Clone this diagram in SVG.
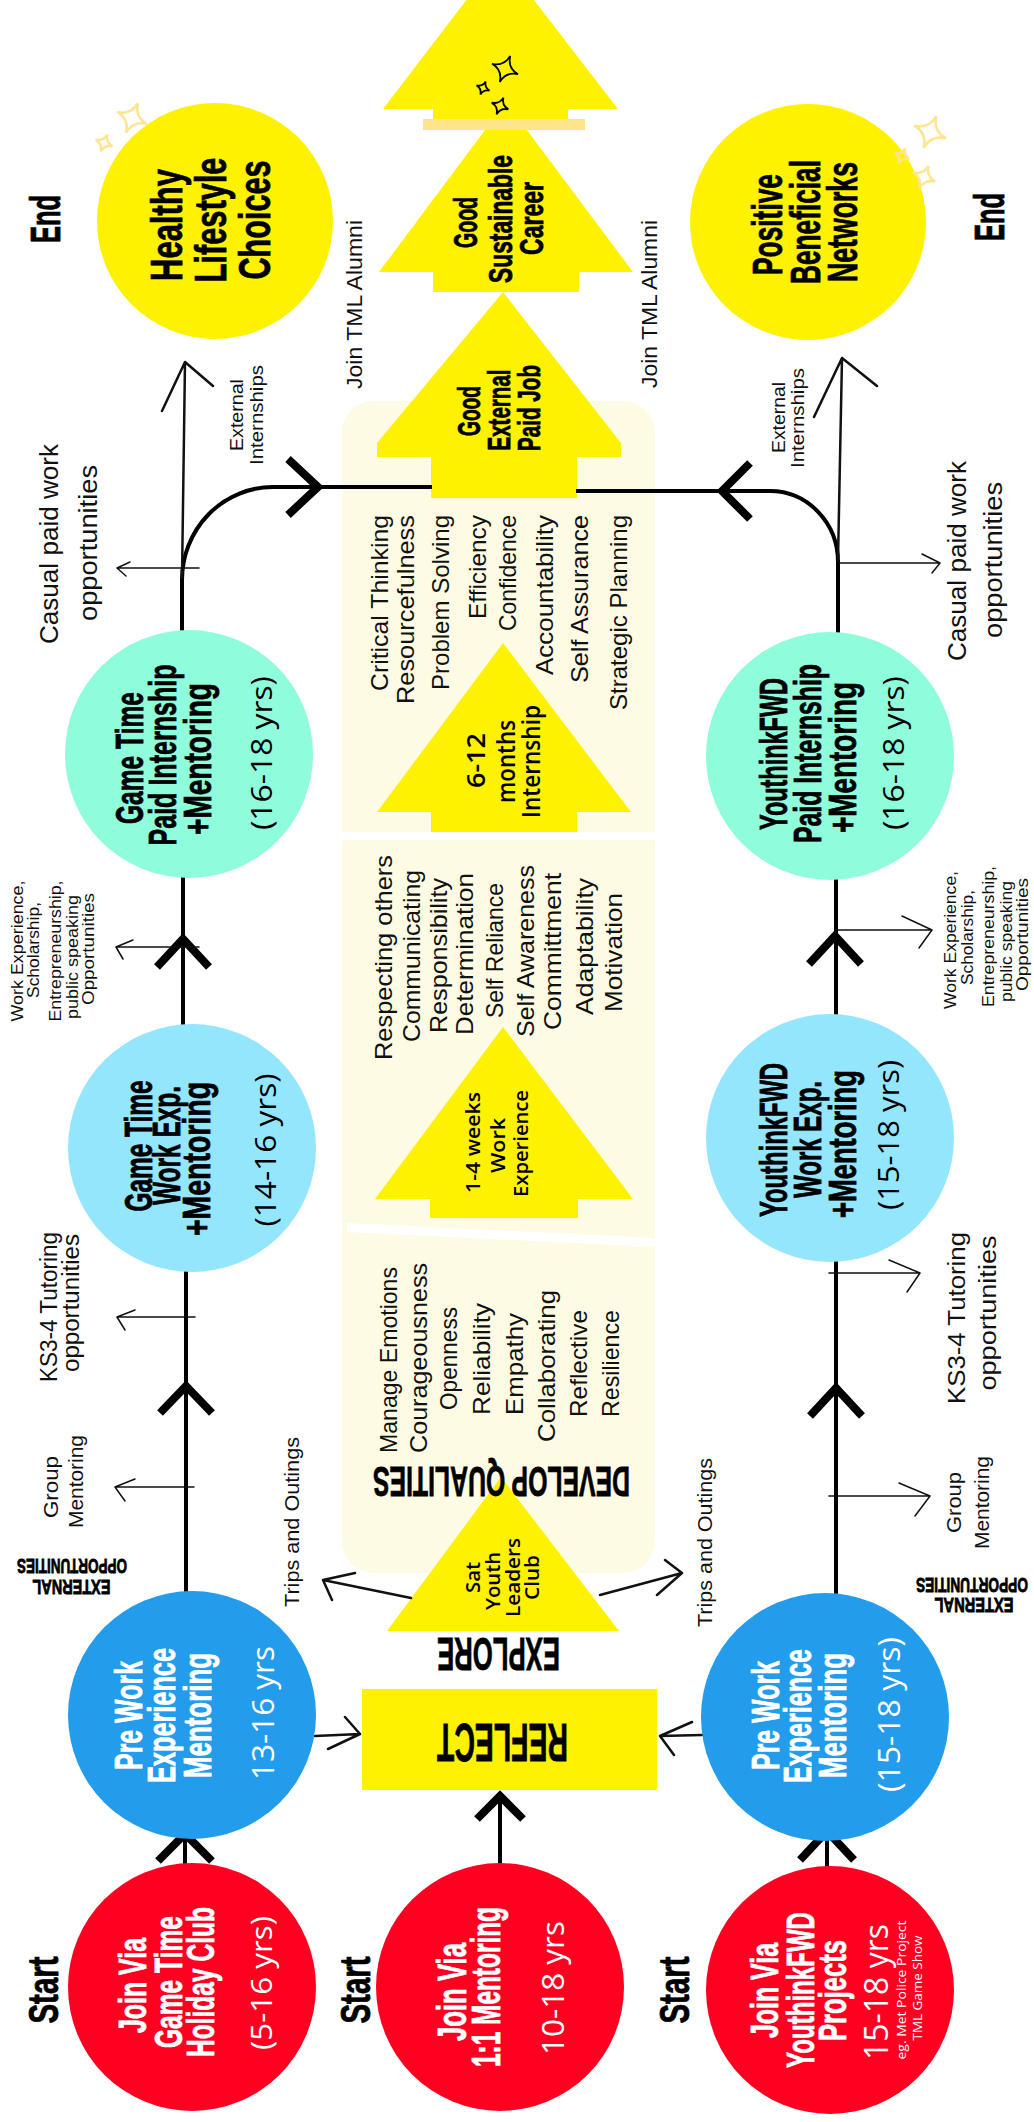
<svg xmlns="http://www.w3.org/2000/svg" width="1034" height="2122" viewBox="0 0 1034 2122">
<style>
.hd{font-family:"Liberation Sans",Arial,sans-serif;font-weight:700;text-anchor:middle;fill:#000;stroke:#000;stroke-width:0.8}
.wh{fill:#fff}
.hd.wh{stroke:#fff}
.hw{font-family:"Liberation Sans",Arial,sans-serif;font-weight:400;text-anchor:middle;fill:#111}
.os{font-family:"Open Sans","Liberation Sans",sans-serif;text-anchor:middle}
.e{text-anchor:end}
.yl{fill:#FFF200}
.ln{stroke:#000;fill:none;stroke-width:4}
.thin{stroke:#111;fill:none;stroke-width:1.5;stroke-linecap:round;stroke-linejoin:round}
.mid{stroke:#111;fill:none;stroke-width:2.5;stroke-linecap:round;stroke-linejoin:round}
.chev{stroke:#000;fill:none;stroke-width:8}
.sk{fill:none;stroke:#000;stroke-width:1.8}
.sy{fill:none;stroke:#FFE58F;stroke-width:2.5}
</style>
<defs>
<path id="star" vector-effect="non-scaling-stroke" d="M0 -1 Q0.13 -0.13 1 0 Q0.13 0.13 0 1 Q-0.13 0.13 -1 0 Q-0.13 -0.13 0 -1Z"/>
</defs>
<rect width="1034" height="2122" fill="#fff"/>

<g id="panel">
<rect x="342" y="401" width="313" height="1172" rx="32" fill="#FDFBE3"/>
<rect x="342" y="832" width="313" height="8" fill="#fff"/>
<polygon points="347,1223 655,1238 655,1247 347,1232" fill="#fff"/>
</g>

<g id="arrow-career">
<polygon class="yl" points="506,102 633,272 579,272 579,292 433,292 433,272 379,272"/>
<text class="hd" font-size="33" transform="translate(477 222.5) rotate(-90)" textLength="51" lengthAdjust="spacingAndGlyphs">Good</text>
<text class="hd" font-size="33" transform="translate(512 219) rotate(-90)" textLength="128" lengthAdjust="spacingAndGlyphs">Sustainable</text>
<text class="hd" font-size="33" transform="translate(543 218.5) rotate(-90)" textLength="73" lengthAdjust="spacingAndGlyphs">Career</text>
</g>

<g id="arrow-top">
<polygon class="yl" points="500,-44 618,109 568,109 568,119 433,119 433,109 383,109"/>
<rect x="423" y="119" width="162" height="11" fill="#FFE58A"/>
<use href="#star" class="sk" transform="translate(505 69) rotate(22) scale(14)"/>
<use href="#star" class="sk" transform="translate(483 88) rotate(22) scale(7)"/>
<use href="#star" class="sk" transform="translate(500 106) rotate(22) scale(9)"/>
</g>

<g id="arrow-job">
<polygon class="yl" points="503,292 621,443 621,457 577,457 577,498 431,498 431,457 377,457 377,443"/>
<text class="hd" font-size="32" transform="translate(480 411) rotate(-90)" textLength="50" lengthAdjust="spacingAndGlyphs">Good</text>
<text class="hd" font-size="32" transform="translate(510 410) rotate(-90)" textLength="81" lengthAdjust="spacingAndGlyphs">External</text>
<text class="hd" font-size="32" transform="translate(540 408) rotate(-90)" textLength="86" lengthAdjust="spacingAndGlyphs">Paid Job</text>
</g>

<g id="arrow-internship">
<polygon class="yl" points="503,643 631,812 577,812 577,832 431,832 431,812 377,812"/>
<text class="os" font-size="26" font-weight="600" transform="translate(485 760.5) rotate(-90)" textLength="55" lengthAdjust="spacingAndGlyphs">6-12</text>
<text class="os" font-size="26" font-weight="600" transform="translate(515 761.5) rotate(-90)" textLength="83" lengthAdjust="spacingAndGlyphs">months</text>
<text class="os" font-size="26" font-weight="600" transform="translate(540 761.5) rotate(-90)" textLength="113" lengthAdjust="spacingAndGlyphs">Internship</text>
</g>

<g id="arrow-workexp">
<polygon class="yl" points="503,1027 633,1199 578,1199 578,1218 430,1218 430,1199 375,1199"/>
<text class="os" font-size="19" font-weight="600" transform="translate(480 1142.5) rotate(-90)" textLength="101" lengthAdjust="spacingAndGlyphs">1-4 weeks</text>
<text class="os" font-size="19" font-weight="600" transform="translate(505 1145.5) rotate(-90)" textLength="55" lengthAdjust="spacingAndGlyphs">Work</text>
<text class="os" font-size="19" font-weight="600" transform="translate(528 1143.5) rotate(-90)" textLength="107" lengthAdjust="spacingAndGlyphs">Experience</text>
</g>

<g id="arrow-satclub">
<polygon class="yl" points="501,1477 619,1631 387,1631"/>
<text class="os" font-size="20" font-weight="600" transform="translate(480 1577.5) rotate(-90)" textLength="31" lengthAdjust="spacingAndGlyphs">Sat</text>
<text class="os" font-size="20" font-weight="600" transform="translate(500 1581) rotate(-90)" textLength="58" lengthAdjust="spacingAndGlyphs">Youth</text>
<text class="os" font-size="20" font-weight="600" transform="translate(520 1577.5) rotate(-90)" textLength="79" lengthAdjust="spacingAndGlyphs">Leaders</text>
<text class="os" font-size="20" font-weight="600" transform="translate(539 1577.5) rotate(-90)" textLength="45" lengthAdjust="spacingAndGlyphs">Club</text>
</g>

<g id="qualities-top">
<g font-size="24">
<text class="hw e" transform="translate(388 515) rotate(-90)" textLength="176" lengthAdjust="spacingAndGlyphs">Critical Thinking</text>
<text class="hw e" transform="translate(414 515) rotate(-90)" textLength="189" lengthAdjust="spacingAndGlyphs">Resourcefulness</text>
<text class="hw e" transform="translate(449 515) rotate(-90)" textLength="175" lengthAdjust="spacingAndGlyphs">Problem Solving</text>
<text class="hw e" transform="translate(486 515) rotate(-90)" textLength="104" lengthAdjust="spacingAndGlyphs">Efficiency</text>
<text class="hw e" transform="translate(516 515) rotate(-90)" textLength="116" lengthAdjust="spacingAndGlyphs">Confidence</text>
<text class="hw e" transform="translate(553 515) rotate(-90)" textLength="160" lengthAdjust="spacingAndGlyphs">Accountability</text>
<text class="hw e" transform="translate(588 515) rotate(-90)" textLength="168" lengthAdjust="spacingAndGlyphs">Self Assurance</text>
<text class="hw e" transform="translate(627 515) rotate(-90)" textLength="195" lengthAdjust="spacingAndGlyphs">Strategic Planning</text>
</g>
</g>

<g id="qualities-middle">
<g font-size="24">
<text class="hw" transform="translate(392 957.5) rotate(-90)" textLength="205" lengthAdjust="spacingAndGlyphs">Respecting others</text>
<text class="hw" transform="translate(420 956) rotate(-90)" textLength="172" lengthAdjust="spacingAndGlyphs">Communicating</text>
<text class="hw" transform="translate(447 955.5) rotate(-90)" textLength="155" lengthAdjust="spacingAndGlyphs">Responsibility</text>
<text class="hw" transform="translate(473 954) rotate(-90)" textLength="162" lengthAdjust="spacingAndGlyphs">Determination</text>
<text class="hw" transform="translate(503 950.5) rotate(-90)" textLength="135" lengthAdjust="spacingAndGlyphs">Self Reliance</text>
<text class="hw" transform="translate(534 951) rotate(-90)" textLength="172" lengthAdjust="spacingAndGlyphs">Self Awareness</text>
<text class="hw" transform="translate(561 951.5) rotate(-90)" textLength="157" lengthAdjust="spacingAndGlyphs">Committment</text>
<text class="hw" transform="translate(593 946.5) rotate(-90)" textLength="137" lengthAdjust="spacingAndGlyphs">Adaptability</text>
<text class="hw" transform="translate(622 952.5) rotate(-90)" textLength="119" lengthAdjust="spacingAndGlyphs">Motivation</text>
</g>
</g>

<g id="qualities-bottom">
<g font-size="24">
<text class="hw" transform="translate(397 1360) rotate(-90)" textLength="186" lengthAdjust="spacingAndGlyphs">Manage Emotions</text>
<text class="hw" transform="translate(427 1358) rotate(-90)" textLength="190" lengthAdjust="spacingAndGlyphs">Courageousness</text>
<text class="hw" transform="translate(457 1358.5) rotate(-90)" textLength="103" lengthAdjust="spacingAndGlyphs">Openness</text>
<text class="hw" transform="translate(490 1359) rotate(-90)" textLength="112" lengthAdjust="spacingAndGlyphs">Reliability</text>
<text class="hw" transform="translate(523 1364) rotate(-90)" textLength="102" lengthAdjust="spacingAndGlyphs">Empathy</text>
<text class="hw" transform="translate(555 1366) rotate(-90)" textLength="152" lengthAdjust="spacingAndGlyphs">Collaborating</text>
<text class="hw" transform="translate(587 1363.5) rotate(-90)" textLength="107" lengthAdjust="spacingAndGlyphs">Reflective</text>
<text class="hw" transform="translate(619 1363.5) rotate(-90)" textLength="107" lengthAdjust="spacingAndGlyphs">Resilience</text>
</g>
</g>

<g id="develop-qualities">
<text class="hd" font-size="43" transform="translate(501.5 1467) rotate(180)" textLength="257" lengthAdjust="spacingAndGlyphs">DEVELOP QUALITIES</text>
</g>
<g id="explore">
<text class="hd" font-size="47" transform="translate(498.5 1638) rotate(180)" textLength="123" lengthAdjust="spacingAndGlyphs">EXPLORE</text>
</g>
<g id="reflect">
<rect class="yl" x="362" y="1689" width="295" height="101"/>
<text class="hd" font-size="54" transform="translate(502.5 1724) rotate(180)" textLength="131" lengthAdjust="spacingAndGlyphs">REFLECT</text>
</g>

<g id="connectors">
<path class="ln" d="M185 1866V1836M186 1594V1270M183 1026V876M500 1865V1792"/>
<path class="ln" d="M827 1869V1836M836 1595V1259M836 1016V878"/>
<path class="ln" stroke-width="6" d="M182 632V578M838 634V560"/>
<path class="ln" stroke-width="7" d="M182 580A91 93 0 0 1 273 487M838 562A68 71 0 0 0 770 491"/>
<path class="ln" stroke-width="3.5" d="M271 487H432M772 491H576"/>
<path class="mid" d="M182 578L185 362M162 411L185 362L213 386"/>
<path class="mid" d="M838 560L842 358M814 417L842 358L877 386"/>
<path class="chev" d="M158 1861L185 1834L212 1861M160 1413L186 1386L212 1413M157 967L183 939L209 967M288 459L318 487L288 515"/>
<path class="chev" d="M800 1860L827 1831L854 1860M810 1416L836 1388L862 1416M809 964L835 936L861 964M750 463L722 491L750 519M477 1819L500 1796L523 1819"/>
<path class="thin" d="M199 568H117M130 562L117 568L126 576M199 947H116M133 940L116 947L123 959M195 1317H117M135 1310L117 1317L125 1330M194 1487H115M135 1479L115 1487L125 1501"/>
<path class="thin" d="M839 563H940M922 554L940 563L932 573M837 930H932M902 916L932 930L919 948M829 1273H920M889 1260L920 1273L907 1292M829 1496H930M899 1483L930 1496L915 1516"/>
<path class="mid" stroke-width="2" d="M411 1598L323 1580M355 1573L323 1580L332 1600M600 1595L682 1573M665 1560L682 1573L657 1595"/>
<path class="mid" stroke-width="2" d="M315 1736L360 1734M345 1717L360 1734L328 1749M702 1735L660 1736M692 1722L660 1736L674 1755"/>
</g>

<g id="end-left"><text class="hd" font-size="42" transform="translate(60 219) rotate(-90)" textLength="48" lengthAdjust="spacingAndGlyphs">End</text></g>
<g id="end-right"><text class="hd" font-size="42" transform="translate(1004 217) rotate(-90)" textLength="48" lengthAdjust="spacingAndGlyphs">End</text></g>

<g id="healthy">
<circle cx="215" cy="221" r="118" fill="#FFF200"/>
<use href="#star" class="sy" transform="translate(132 118) rotate(22) scale(16)"/>
<use href="#star" class="sy" transform="translate(104 143) rotate(22) scale(9)"/>
<text class="hd" font-size="44" transform="translate(182 225) rotate(-90)" textLength="112" lengthAdjust="spacingAndGlyphs">Healthy</text>
<text class="hd" font-size="44" transform="translate(226 220) rotate(-90)" textLength="125" lengthAdjust="spacingAndGlyphs">Lifestyle</text>
<text class="hd" font-size="44" transform="translate(270 220) rotate(-90)" textLength="119" lengthAdjust="spacingAndGlyphs">Choices</text>
</g>

<g id="networks">
<circle cx="808" cy="222" r="118" fill="#FFF200"/>
<use href="#star" class="sy" transform="translate(930 132) rotate(22) scale(17)"/>
<use href="#star" class="sy" transform="translate(902 156) rotate(22) scale(8)"/>
<use href="#star" class="sy" transform="translate(924 177) rotate(22) scale(12)"/>
<text class="hd" font-size="42" transform="translate(782 224.5) rotate(-90)" textLength="101" lengthAdjust="spacingAndGlyphs">Positive</text>
<text class="hd" font-size="42" transform="translate(820 222) rotate(-90)" textLength="124" lengthAdjust="spacingAndGlyphs">Beneficial</text>
<text class="hd" font-size="42" transform="translate(857 222) rotate(-90)" textLength="120" lengthAdjust="spacingAndGlyphs">Networks</text>
</g>

<g id="alumni-labels">
<text class="hw" font-size="22" transform="translate(362 304.5) rotate(-90)" textLength="169" lengthAdjust="spacingAndGlyphs">Join TML Alumni</text>
<text class="hw" font-size="22" transform="translate(657 304) rotate(-90)" textLength="168" lengthAdjust="spacingAndGlyphs">Join TML Alumni</text>
</g>

<g id="internships-labels">
<text class="hw" font-size="18" transform="translate(243 415) rotate(-90)" textLength="72" lengthAdjust="spacingAndGlyphs">External</text>
<text class="hw" font-size="18" transform="translate(263 415) rotate(-90)" textLength="100" lengthAdjust="spacingAndGlyphs">Internships</text>
<text class="hw" font-size="18" transform="translate(785 417.5) rotate(-90)" textLength="71" lengthAdjust="spacingAndGlyphs">External</text>
<text class="hw" font-size="18" transform="translate(804 418) rotate(-90)" textLength="100" lengthAdjust="spacingAndGlyphs">Internships</text>
</g>

<g id="casual-labels">
<text class="hw" font-size="26" transform="translate(58 544) rotate(-90)" textLength="200" lengthAdjust="spacingAndGlyphs">Casual paid work</text>
<text class="hw" font-size="26" transform="translate(97 543) rotate(-90)" textLength="156" lengthAdjust="spacingAndGlyphs">opportunities</text>
<text class="hw" font-size="26" transform="translate(966 561) rotate(-90)" textLength="200" lengthAdjust="spacingAndGlyphs">Casual paid work</text>
<text class="hw" font-size="26" transform="translate(1002 560) rotate(-90)" textLength="156" lengthAdjust="spacingAndGlyphs">opportunities</text>
</g>

<g id="gt-internship">
<circle cx="189" cy="754" r="124" fill="#8FFDDC"/>
<text class="hd" font-size="39" transform="translate(143 758) rotate(-90)" textLength="132" lengthAdjust="spacingAndGlyphs">Game Time</text>
<text class="hd" font-size="39" transform="translate(176 755) rotate(-90)" textLength="181" lengthAdjust="spacingAndGlyphs">Paid Internship</text>
<text class="hd" font-size="39" transform="translate(211 759) rotate(-90)" textLength="152" lengthAdjust="spacingAndGlyphs">+Mentoring</text>
<text class="os" font-size="30" transform="translate(272 753) rotate(-90)" textLength="154" lengthAdjust="spacingAndGlyphs">(16-18 yrs)</text>
</g>

<g id="yf-internship">
<circle cx="830" cy="756" r="124" fill="#8FFDDC"/>
<text class="hd" font-size="39" transform="translate(787 754) rotate(-90)" textLength="152" lengthAdjust="spacingAndGlyphs">YouthinkFWD</text>
<text class="hd" font-size="39" transform="translate(821 753.5) rotate(-90)" textLength="179" lengthAdjust="spacingAndGlyphs">Paid Internship</text>
<text class="hd" font-size="39" transform="translate(856 757.5) rotate(-90)" textLength="151" lengthAdjust="spacingAndGlyphs">+Mentoring</text>
<text class="os" font-size="30" transform="translate(904 753) rotate(-90)" textLength="154" lengthAdjust="spacingAndGlyphs">(16-18 yrs)</text>
</g>

<g id="workexp-labels">
<g font-size="16">
<text class="hw" transform="translate(23 951) rotate(-90)" textLength="141" lengthAdjust="spacingAndGlyphs">Work Experience,</text>
<text class="hw" transform="translate(39 950) rotate(-90)" textLength="96" lengthAdjust="spacingAndGlyphs">Scholarship,</text>
<text class="hw" transform="translate(61 951) rotate(-90)" textLength="141" lengthAdjust="spacingAndGlyphs">Entrepreneurship,</text>
<text class="hw" transform="translate(78 957) rotate(-90)" textLength="124" lengthAdjust="spacingAndGlyphs">public speaking</text>
<text class="hw" transform="translate(94 949) rotate(-90)" textLength="112" lengthAdjust="spacingAndGlyphs">Opportunities</text>
<text class="hw" transform="translate(956 940) rotate(-90)" textLength="138" lengthAdjust="spacingAndGlyphs">Work Experience,</text>
<text class="hw" transform="translate(973 937.5) rotate(-90)" textLength="95" lengthAdjust="spacingAndGlyphs">Scholarship,</text>
<text class="hw" transform="translate(994 936.5) rotate(-90)" textLength="141" lengthAdjust="spacingAndGlyphs">Entrepreneurship,</text>
<text class="hw" transform="translate(1012 941.5) rotate(-90)" textLength="121" lengthAdjust="spacingAndGlyphs">public speaking</text>
<text class="hw" transform="translate(1028 934.5) rotate(-90)" textLength="113" lengthAdjust="spacingAndGlyphs">Opportunities</text>
</g>
</g>

<g id="gt-workexp">
<circle cx="192" cy="1148" r="124" fill="#94E6FC"/>
<text class="hd" font-size="38" transform="translate(152 1146) rotate(-90)" textLength="131" lengthAdjust="spacingAndGlyphs">Game Time</text>
<text class="hd" font-size="38" transform="translate(180 1145.5) rotate(-90)" textLength="119" lengthAdjust="spacingAndGlyphs">Work Exp.</text>
<text class="hd" font-size="38" transform="translate(210 1159) rotate(-90)" textLength="154" lengthAdjust="spacingAndGlyphs">+Mentoring</text>
<text class="os" font-size="30" transform="translate(276 1150) rotate(-90)" textLength="153" lengthAdjust="spacingAndGlyphs">(14-16 yrs)</text>
</g>

<g id="yf-workexp">
<circle cx="830" cy="1138" r="124" fill="#94E6FC"/>
<text class="hd" font-size="38" transform="translate(787 1140) rotate(-90)" textLength="154" lengthAdjust="spacingAndGlyphs">YouthinkFWD</text>
<text class="hd" font-size="38" transform="translate(821 1139.5) rotate(-90)" textLength="117" lengthAdjust="spacingAndGlyphs">Work Exp.</text>
<text class="hd" font-size="38" transform="translate(856 1144) rotate(-90)" textLength="148" lengthAdjust="spacingAndGlyphs">+Mentoring</text>
<text class="os" font-size="30" transform="translate(899 1135) rotate(-90)" textLength="150" lengthAdjust="spacingAndGlyphs">(15-18 yrs)</text>
</g>

<g id="tutoring-labels">
<text class="hw" font-size="23" transform="translate(57 1307) rotate(-90)" textLength="150" lengthAdjust="spacingAndGlyphs">KS3-4 Tutoring</text>
<text class="hw" font-size="23" transform="translate(79 1303) rotate(-90)" textLength="138" lengthAdjust="spacingAndGlyphs">opportunities</text>
<text class="hw" font-size="23" transform="translate(965 1318) rotate(-90)" textLength="172" lengthAdjust="spacingAndGlyphs">KS3-4 Tutoring</text>
<text class="hw" font-size="23" transform="translate(996 1313) rotate(-90)" textLength="155" lengthAdjust="spacingAndGlyphs">opportunities</text>
</g>

<g id="group-labels">
<text class="hw" font-size="20" transform="translate(58 1487) rotate(-90)" textLength="62" lengthAdjust="spacingAndGlyphs">Group</text>
<text class="hw" font-size="20" transform="translate(83 1481.5) rotate(-90)" textLength="93" lengthAdjust="spacingAndGlyphs">Mentoring</text>
<text class="hw" font-size="20" transform="translate(961 1502.5) rotate(-90)" textLength="61" lengthAdjust="spacingAndGlyphs">Group</text>
<text class="hw" font-size="20" transform="translate(989 1502.5) rotate(-90)" textLength="93" lengthAdjust="spacingAndGlyphs">Mentoring</text>
</g>

<g id="trips-labels">
<text class="hw" font-size="20" transform="translate(299 1522) rotate(-90)" textLength="170" lengthAdjust="spacingAndGlyphs">Trips and Outings</text>
<text class="hw" font-size="20" transform="translate(712 1542.5) rotate(-90)" textLength="169" lengthAdjust="spacingAndGlyphs">Trips and Outings</text>
</g>

<g id="external-labels">
<text class="hd" font-size="20" stroke-width="0.4" transform="translate(71.5 1580) rotate(180)" textLength="78" lengthAdjust="spacingAndGlyphs">EXTERNAL</text>
<text class="hd" font-size="20" stroke-width="0.4" transform="translate(72 1559) rotate(180)" textLength="110" lengthAdjust="spacingAndGlyphs">OPPORTUNITIES</text>
<text class="hd" font-size="20" stroke-width="0.4" transform="translate(974 1598) rotate(180)" textLength="79" lengthAdjust="spacingAndGlyphs">EXTERNAL</text>
<text class="hd" font-size="20" stroke-width="0.4" transform="translate(972 1578) rotate(180)" textLength="112" lengthAdjust="spacingAndGlyphs">OPPORTUNITIES</text>
</g>

<g id="prework-left">
<circle cx="192" cy="1715" r="124" fill="#229CEB"/>
<text class="hd wh" font-size="38" transform="translate(142 1715.5) rotate(-90)" textLength="109" lengthAdjust="spacingAndGlyphs">Pre Work</text>
<text class="hd wh" font-size="38" transform="translate(175 1715.5) rotate(-90)" textLength="135" lengthAdjust="spacingAndGlyphs">Experience</text>
<text class="hd wh" font-size="38" transform="translate(211 1715.5) rotate(-90)" textLength="125" lengthAdjust="spacingAndGlyphs">Mentoring</text>
<text class="os wh" font-size="31" transform="translate(274 1713) rotate(-90)" textLength="134" lengthAdjust="spacingAndGlyphs">13-16 yrs</text>
</g>

<g id="prework-right">
<circle cx="825" cy="1717" r="124" fill="#229CEB"/>
<text class="hd wh" font-size="38" transform="translate(779 1715.5) rotate(-90)" textLength="109" lengthAdjust="spacingAndGlyphs">Pre Work</text>
<text class="hd wh" font-size="38" transform="translate(811 1716) rotate(-90)" textLength="134" lengthAdjust="spacingAndGlyphs">Experience</text>
<text class="hd wh" font-size="38" transform="translate(846 1715.5) rotate(-90)" textLength="125" lengthAdjust="spacingAndGlyphs">Mentoring</text>
<text class="os wh" font-size="31" transform="translate(900 1714.5) rotate(-90)" textLength="155" lengthAdjust="spacingAndGlyphs">(15-18 yrs)</text>
</g>

<g id="join-gametime">
<circle cx="192" cy="1987" r="124" fill="#FF0021"/>
<text class="hd wh" font-size="39" transform="translate(146 1985.5) rotate(-90)" textLength="95" lengthAdjust="spacingAndGlyphs">Join Via</text>
<text class="hd wh" font-size="39" transform="translate(182 1982) rotate(-90)" textLength="132" lengthAdjust="spacingAndGlyphs">Game Time</text>
<text class="hd wh" font-size="39" transform="translate(214 1982) rotate(-90)" textLength="150" lengthAdjust="spacingAndGlyphs">Holiday Club</text>
<text class="os wh" font-size="30" transform="translate(272 1983) rotate(-90)" textLength="134" lengthAdjust="spacingAndGlyphs">(5-16 yrs)</text>
</g>

<g id="join-mentoring">
<circle cx="500" cy="1987" r="124" fill="#FF0021"/>
<text class="hd wh" font-size="40" transform="translate(466 1992) rotate(-90)" textLength="98" lengthAdjust="spacingAndGlyphs">Join Via</text>
<text class="hd wh" font-size="40" transform="translate(500 1987) rotate(-90)" textLength="160" lengthAdjust="spacingAndGlyphs">1:1 Mentoring</text>
<text class="os wh" font-size="31" transform="translate(564 1988) rotate(-90)" textLength="134" lengthAdjust="spacingAndGlyphs">10-18 yrs</text>
</g>

<g id="join-youthink">
<circle cx="830" cy="1990" r="124" fill="#FF0021"/>
<text class="hd wh" font-size="39" transform="translate(778 1990.5) rotate(-90)" textLength="95" lengthAdjust="spacingAndGlyphs">Join Via</text>
<text class="hd wh" font-size="39" transform="translate(814 1990) rotate(-90)" textLength="156" lengthAdjust="spacingAndGlyphs">YouthinkFWD</text>
<text class="hd wh" font-size="39" transform="translate(846 1990.5) rotate(-90)" textLength="101" lengthAdjust="spacingAndGlyphs">Projects</text>
<text class="os wh" font-size="33" transform="translate(888 1992) rotate(-90)" textLength="136" lengthAdjust="spacingAndGlyphs">15-18 yrs</text>
<text class="os wh" font-size="12" transform="translate(906 1990) rotate(-90)" textLength="139" lengthAdjust="spacingAndGlyphs">eg. Met Police Project</text>
<text class="os wh" font-size="12" transform="translate(922 1988) rotate(-90)" textLength="105" lengthAdjust="spacingAndGlyphs">TML Game Show</text>
</g>

<g id="start-labels">
<text class="hd" font-size="43" transform="translate(58 1990) rotate(-90)" textLength="67" lengthAdjust="spacingAndGlyphs">Start</text>
<text class="hd" font-size="43" transform="translate(370 1990) rotate(-90)" textLength="67" lengthAdjust="spacingAndGlyphs">Start</text>
<text class="hd" font-size="43" transform="translate(689 1990) rotate(-90)" textLength="67" lengthAdjust="spacingAndGlyphs">Start</text>
</g>
</svg>
